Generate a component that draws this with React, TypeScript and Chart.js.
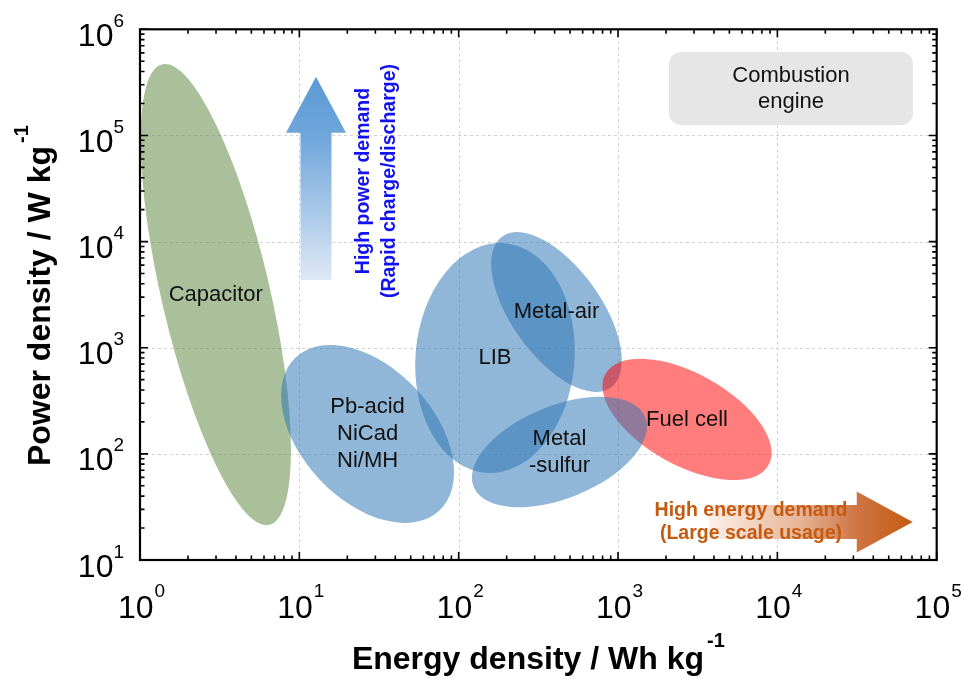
import { useEffect, useRef } from 'react';
import { Chart, registerables } from 'chart.js';

Chart.register(...registerables);

// ---- axis ticks (powers of ten) ----
const X_TICK_EXPONENTS = [0, 1, 2, 3, 4, 5];
const Y_TICK_EXPONENTS = [1, 2, 3, 4, 5, 6];

// ---- technology regions (ellipses in log-log space) ----
const TECH_LABELS = [
  ['Capacitor'],
  ['Pb-acid', 'NiCad', 'Ni/MH'],
  ['LIB'],
  ['Metal-air'],
  ['Fuel cell'],
  ['Metal', '-sulfur'],
];
// centre of each region (Wh/kg, W/kg)
const CENTER_ENERGY = [2.99, 26.8, 169, 411, 2710, 429];
const CENTER_POWER = [3175, 154, 800, 2170, 211, 104];
// one end of the long axis of each region (Wh/kg, W/kg)
const AXIS_END_ENERGY = [6.48, 75.6, 194, 901, 8810, 1483];
const AXIS_END_POWER = [21.5, 29.2, 9660, 421, 78.4, 221];
// short axis / long axis
const AXIS_RATIO = [0.229, 0.63, 0.69, 0.48, 0.49, 0.5];

// ---- annotations (data coordinates) ----
const COMBUSTION_TEXT = ['Combustion', 'engine'];
const COMBUSTION_ENERGY = [2090, 71000];
const COMBUSTION_POWER = [611000, 125400];

const POWER_ARROW_ENERGY = 12.72;
const POWER_ARROW_POWER = [4345, 106100, 357000]; // tail, head base, tip
const POWER_TEXT = ['High power demand', '(Rapid charge/discharge)'];
const POWER_TEXT_AT = { energy: 30.5, power: 37200 };

const ENERGY_ARROW_POWER = 22.8;
const ENERGY_ARROW_ENERGY = [3724, 31500, 70700]; // tail, head base, tip
const ENERGY_TEXT = ['High energy demand', '(Large scale usage)'];
const ENERGY_TEXT_AT = { energy: 6833, power: 22.8 };

// ---- styles ----
const FILLS = [
  'rgba(84,130,53,0.5)',
  'rgba(46,117,182,0.53)',
  'rgba(46,117,182,0.53)',
  'rgba(46,117,182,0.53)',
  'rgba(255,0,0,0.51)',
  'rgba(46,117,182,0.53)',
];
const FONT_FAMILY = '"Liberation Sans", Arial, Helvetica, sans-serif';

const ragonePlugin = {
  id: 'ragone',
  beforeDatasetsDraw(chart: any) {
    const { ctx, chartArea: ca, scales } = chart;
    const xs = scales.x;
    const ys = scales.y;
    ctx.save();

    // dashed grid at decades
    ctx.strokeStyle = '#d2d2d2';
    ctx.lineWidth = 1;
    ctx.setLineDash([3, 3]);
    X_TICK_EXPONENTS.forEach((e) => {
      const px = Math.round(xs.getPixelForValue(Math.pow(10, e))) + 0.5;
      if (px > ca.left + 3 && px < ca.right - 3) {
        ctx.beginPath();
        ctx.moveTo(px, ca.top);
        ctx.lineTo(px, ca.bottom);
        ctx.stroke();
      }
    });
    Y_TICK_EXPONENTS.forEach((e) => {
      const py = Math.round(ys.getPixelForValue(Math.pow(10, e))) + 0.5;
      if (py > ca.top + 3 && py < ca.bottom - 3) {
        ctx.beginPath();
        ctx.moveTo(ca.left, py);
        ctx.lineTo(ca.right, py);
        ctx.stroke();
      }
    });
    ctx.setLineDash([]);

    ctx.beginPath();
    ctx.rect(ca.left, ca.top, ca.right - ca.left, ca.bottom - ca.top);
    ctx.clip();

    // combustion engine box
    const bx0 = xs.getPixelForValue(COMBUSTION_ENERGY[0]);
    const bx1 = xs.getPixelForValue(COMBUSTION_ENERGY[1]);
    const by0 = ys.getPixelForValue(COMBUSTION_POWER[0]);
    const by1 = ys.getPixelForValue(COMBUSTION_POWER[1]);
    ctx.fillStyle = '#e6e6e6';
    ctx.beginPath();
    if (ctx.roundRect) ctx.roundRect(bx0, by0, bx1 - bx0, by1 - by0, 12);
    else ctx.rect(bx0, by0, bx1 - bx0, by1 - by0);
    ctx.fill();

    // upward (power) arrow
    const ax = xs.getPixelForValue(POWER_ARROW_ENERGY);
    const aTail = ys.getPixelForValue(POWER_ARROW_POWER[0]);
    const aBase = ys.getPixelForValue(POWER_ARROW_POWER[1]);
    const aTip = ys.getPixelForValue(POWER_ARROW_POWER[2]);
    const gUp = ctx.createLinearGradient(0, aTip, 0, aTail);
    gUp.addColorStop(0, 'rgb(91,155,213)');
    gUp.addColorStop(0.3, 'rgb(112,166,219)');
    gUp.addColorStop(1, 'rgb(222,232,245)');
    ctx.fillStyle = gUp;
    ctx.beginPath();
    ctx.moveTo(ax, aTip);
    ctx.lineTo(ax + 30, aBase);
    ctx.lineTo(ax + 15.5, aBase);
    ctx.lineTo(ax + 15.5, aTail);
    ctx.lineTo(ax - 15.5, aTail);
    ctx.lineTo(ax - 15.5, aBase);
    ctx.lineTo(ax - 30, aBase);
    ctx.closePath();
    ctx.fill();

    // rightward (energy) arrow
    const ry = ys.getPixelForValue(ENERGY_ARROW_POWER);
    const rTail = xs.getPixelForValue(ENERGY_ARROW_ENERGY[0]);
    const rBase = xs.getPixelForValue(ENERGY_ARROW_ENERGY[1]);
    const rTip = xs.getPixelForValue(ENERGY_ARROW_ENERGY[2]);
    const gR = ctx.createLinearGradient(rTail, 0, rTip, 0);
    gR.addColorStop(0, 'rgb(253,240,232)');
    gR.addColorStop(0.45, 'rgb(230,180,150)');
    gR.addColorStop(0.72, 'rgb(207,118,68)');
    gR.addColorStop(1, 'rgb(197,90,17)');
    ctx.fillStyle = gR;
    ctx.beginPath();
    ctx.moveTo(rTip, ry);
    ctx.lineTo(rBase, ry - 30.5);
    ctx.lineTo(rBase, ry - 17);
    ctx.lineTo(rTail, ry - 17);
    ctx.lineTo(rTail, ry + 17);
    ctx.lineTo(rBase, ry + 17);
    ctx.lineTo(rBase, ry + 30.5);
    ctx.closePath();
    ctx.fill();

    // technology ellipses
    TECH_LABELS.forEach((_, i) => {
      const cx = xs.getPixelForValue(CENTER_ENERGY[i]);
      const cy = ys.getPixelForValue(CENTER_POWER[i]);
      const ex = xs.getPixelForValue(AXIS_END_ENERGY[i]);
      const ey = ys.getPixelForValue(AXIS_END_POWER[i]);
      const a = Math.hypot(ex - cx, ey - cy);
      const ang = Math.atan2(ey - cy, ex - cx);
      ctx.fillStyle = FILLS[i];
      ctx.beginPath();
      ctx.ellipse(cx, cy, a, a * AXIS_RATIO[i], ang, 0, Math.PI * 2);
      ctx.fill();
    });

    ctx.restore();
  },
  afterDatasetsDraw(chart: any) {
    const { ctx, scales } = chart;
    const xs = scales.x;
    const ys = scales.y;
    ctx.save();
    ctx.textAlign = 'center';
    ctx.textBaseline = 'middle';

    // region labels
    ctx.fillStyle = '#111';
    ctx.font = `22px ${FONT_FAMILY}`;
    TECH_LABELS.forEach((lines, i) => {
      const cx = xs.getPixelForValue(CENTER_ENERGY[i]);
      const cy = ys.getPixelForValue(CENTER_POWER[i]);
      const lh = 27;
      lines.forEach((t, k) => {
        ctx.fillText(t, cx, cy + (k - (lines.length - 1) / 2) * lh);
      });
    });

    // combustion text
    const bcx = (xs.getPixelForValue(COMBUSTION_ENERGY[0]) + xs.getPixelForValue(COMBUSTION_ENERGY[1])) / 2;
    const bcy = (ys.getPixelForValue(COMBUSTION_POWER[0]) + ys.getPixelForValue(COMBUSTION_POWER[1])) / 2;
    COMBUSTION_TEXT.forEach((t, k) => ctx.fillText(t, bcx, bcy + (k - 0.5) * 26));

    // power demand text (rotated)
    const px = xs.getPixelForValue(POWER_TEXT_AT.energy);
    const py = ys.getPixelForValue(POWER_TEXT_AT.power);
    ctx.save();
    ctx.translate(px, py);
    ctx.rotate(-Math.PI / 2);
    ctx.fillStyle = 'rgb(18,18,240)';
    ctx.font = `bold 19.5px ${FONT_FAMILY}`;
    POWER_TEXT.forEach((t, k) => ctx.fillText(t, 0, (k - 0.5) * 26));
    ctx.restore();

    // energy demand text
    const qx = xs.getPixelForValue(ENERGY_TEXT_AT.energy);
    const qy = ys.getPixelForValue(ENERGY_TEXT_AT.power);
    ctx.fillStyle = 'rgb(197,90,17)';
    ctx.font = `bold 19.5px ${FONT_FAMILY}`;
    ENERGY_TEXT.forEach((t, k) => ctx.fillText(t, qx, qy + (k - 0.5) * 23.5));

    ctx.restore();
  },
  afterDraw(chart: any) {
    const { ctx, chartArea: ca, scales } = chart;
    const xs = scales.x;
    const ys = scales.y;
    ctx.save();
    ctx.strokeStyle = '#000';

    // ticks on all four sides, inward
    ctx.lineWidth = 1.6;
    const xMaxE = X_TICK_EXPONENTS[X_TICK_EXPONENTS.length - 1];
    const yMaxE = Y_TICK_EXPONENTS[Y_TICK_EXPONENTS.length - 1];
    for (let e = X_TICK_EXPONENTS[0]; e <= xMaxE; e++) {
      for (let m = 1; m <= 9; m++) {
        const v = m * Math.pow(10, e);
        if (v > Math.pow(10, xMaxE)) break;
        const p = xs.getPixelForValue(v);
        const len = m === 1 ? 8 : 4.5;
        ctx.beginPath();
        ctx.moveTo(p, ca.bottom);
        ctx.lineTo(p, ca.bottom - len);
        ctx.moveTo(p, ca.top);
        ctx.lineTo(p, ca.top + len);
        ctx.stroke();
      }
    }
    for (let e = Y_TICK_EXPONENTS[0]; e <= yMaxE; e++) {
      for (let m = 1; m <= 9; m++) {
        const v = m * Math.pow(10, e);
        if (v > Math.pow(10, yMaxE)) break;
        const p = ys.getPixelForValue(v);
        const len = m === 1 ? 8 : 4.5;
        ctx.beginPath();
        ctx.moveTo(ca.left, p);
        ctx.lineTo(ca.left + len, p);
        ctx.moveTo(ca.right, p);
        ctx.lineTo(ca.right - len, p);
        ctx.stroke();
      }
    }

    // frame
    ctx.lineWidth = 2.2;
    ctx.strokeRect(ca.left, ca.top, ca.right - ca.left, ca.bottom - ca.top);

    // tick labels 10^n
    ctx.fillStyle = '#000';
    ctx.textBaseline = 'alphabetic';
    const mainFont = `32px ${FONT_FAMILY}`;
    const expFont = `19px ${FONT_FAMILY}`;
    X_TICK_EXPONENTS.forEach((e) => {
      const p = xs.getPixelForValue(Math.pow(10, e));
      ctx.font = mainFont;
      const w1 = ctx.measureText('10').width;
      ctx.font = expFont;
      const w2 = ctx.measureText(String(e)).width;
      const start = p - (w1 + w2) / 2 + 1;
      ctx.textAlign = 'left';
      ctx.font = mainFont;
      ctx.fillText('10', start, ca.bottom + 58);
      ctx.font = expFont;
      ctx.fillText(String(e), start + w1 + 1, ca.bottom + 37);
    });
    Y_TICK_EXPONENTS.forEach((e) => {
      const p = ys.getPixelForValue(Math.pow(10, e));
      ctx.font = expFont;
      const w2 = ctx.measureText(String(e)).width;
      const right = ca.left - 16;
      ctx.textAlign = 'left';
      ctx.fillText(String(e), right - w2, p - 2.5);
      ctx.textAlign = 'right';
      ctx.font = mainFont;
      ctx.fillText('10', right - w2, p + 16.5);
    });

    // axis titles
    const titleFont = `bold 32px ${FONT_FAMILY}`;
    const supFont = `bold 20px ${FONT_FAMILY}`;
    ctx.textAlign = 'left';
    ctx.font = titleFont;
    const xt = 'Energy density / Wh kg';
    const xtw = ctx.measureText(xt).width;
    ctx.font = supFont;
    const supW = ctx.measureText('-1').width;
    const xCenter = (ca.left + ca.right) / 2;
    const xStart = xCenter - (xtw + supW + 3) / 2;
    ctx.font = titleFont;
    ctx.fillText(xt, xStart, ca.bottom + 109);
    ctx.font = supFont;
    ctx.fillText('-1', xStart + xtw + 3, ca.bottom + 87);

    const yt = 'Power density / W kg';
    ctx.save();
    ctx.translate(50, 0);
    ctx.rotate(-Math.PI / 2);
    ctx.font = titleFont;
    const ytw = ctx.measureText(yt).width;
    const yCenter = (ca.top + ca.bottom) / 2 + 1;
    const yStart = -(yCenter + (ytw + supW + 3) / 2);
    ctx.fillText(yt, yStart, 0);
    ctx.font = supFont;
    ctx.fillText('-1', yStart + ytw + 3, -22);
    ctx.restore();

    ctx.restore();
  },
};

export default function App() {
  const ref = useRef<HTMLCanvasElement>(null);
  useEffect(() => {
    const canvas = ref.current;
    if (!canvas) return;
    const chart = new Chart(canvas, {
      type: 'scatter',
      data: {
        datasets: TECH_LABELS.map((l, i) => ({
          label: l.join(' '),
          data: [{ x: CENTER_ENERGY[i], y: CENTER_POWER[i] }],
          pointRadius: 0,
          pointHoverRadius: 0,
        })),
      },
      options: {
        animation: false,
        responsive: true,
        maintainAspectRatio: false,
        events: [],
        layout: { padding: { top: 29.3, right: 26.3, left: 0, bottom: 0 } },
        plugins: { legend: { display: false }, tooltip: { enabled: false } },
        scales: {
          x: {
            type: 'logarithmic',
            min: 1,
            max: 1e5,
            ticks: { display: false },
            grid: { display: false },
            border: { display: false },
            afterFit: (s: any) => {
              s.height = 119;
            },
          },
          y: {
            type: 'logarithmic',
            min: 10,
            max: 1e6,
            ticks: { display: false },
            grid: { display: false },
            border: { display: false },
            afterFit: (s: any) => {
              s.width = 140;
            },
          },
        },
      } as any,
      plugins: [ragonePlugin],
    });
    return () => chart.destroy();
  }, []);
  return (
    <div style={{ position: 'absolute', left: 0, top: 0, width: 963, height: 679, background: '#fff' }}>
      <canvas ref={ref} />
    </div>
  );
}
